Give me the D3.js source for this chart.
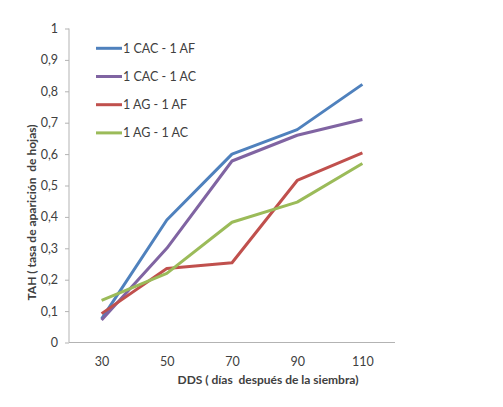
<!DOCTYPE html>
<html>
<head>
<meta charset="utf-8">
<script src="https://cdn.jsdelivr.net/npm/d3@7"></script>
<style>
  body { margin: 0; background: #fff; }
  svg text { font-family: Lato, "Open Sans", sans-serif; fill: #404040; }
</style>
</head>
<body>
<svg id="chart" width="503" height="407"></svg>
<script>
// data
var days = ["30", "50", "70", "90", "110"];
var seriesNames = ["1 CAC - 1 AF", "1 CAC - 1 AC", "1 AG - 1 AF", "1 AG - 1 AC"];
var cacAf = [0.075, 0.39, 0.60, 0.678, 0.822];
var cacAc = [0.072, 0.30, 0.578, 0.66, 0.71];
var agAf = [0.092, 0.236, 0.254, 0.516, 0.604];
var agAc = [0.134, 0.22, 0.383, 0.447, 0.57];
var yTicks = [0, 0.1, 0.2, 0.3, 0.4, 0.5, 0.6, 0.7, 0.8, 0.9, 1];
var colors = ["#4F81BD", "#8064A2", "#C0504D", "#9BBB59"];

var series = [cacAf, cacAc, agAf, agAc];

var margin = {top: 28.5, left: 69, right: 108, bottom: 64.5};
var width = 503 - margin.left - margin.right;
var height = 407 - margin.top - margin.bottom;

var svg = d3.select("#chart")
    .append("g")
    .attr("transform", "translate(" + margin.left + "," + margin.top + ")");

var x = d3.scalePoint()
    .domain(days)
    .range([0, width])
    .padding(0.5);

var y = d3.scaleLinear()
    .domain([0, 1])
    .range([height, 0]);

var fmt = function(d) { return d === 0 || d === 1 ? String(d) : d3.format(".1f")(d).replace(".", ","); };

// y axis
var yAxis = svg.append("g")
    .call(d3.axisLeft(y).tickValues(yTicks).tickFormat(fmt).tickSize(4).tickPadding(7));
yAxis.selectAll("line, path").attr("stroke", "#b3b3b3");
yAxis.select(".domain").attr("d", "M0," + height + "V0");
yAxis.selectAll("text").style("font-size", "12.5px").attr("fill", "#404040");

// x axis
var xAxis = svg.append("g")
    .attr("transform", "translate(0," + height + ")")
    .call(d3.axisBottom(x).tickSize(0).tickPadding(15));
xAxis.selectAll("line, path").attr("stroke", "#b3b3b3");
xAxis.select(".domain").attr("d", "M0,0H" + width);
xAxis.selectAll("text").style("font-size", "12.5px").attr("fill", "#404040");

// lines
var line = d3.line()
    .x(function(d, i) { return x(days[i]); })
    .y(function(d) { return y(d); });

svg.selectAll(".serie")
    .data(series)
    .enter().append("path")
    .attr("class", "serie")
    .attr("d", line)
    .attr("fill", "none")
    .attr("stroke", function(d, i) { return colors[i]; })
    .attr("stroke-width", 3)
    .attr("stroke-linejoin", "round");

// legend
var legend = svg.selectAll(".legend")
    .data(seriesNames)
    .enter().append("g")
    .attr("class", "legend")
    .attr("transform", function(d, i) { return "translate(27," + (19.8 + i * 28.2) + ")"; });

legend.append("line")
    .attr("x1", 0).attr("x2", 26)
    .attr("stroke", function(d, i) { return colors[i]; })
    .attr("stroke-width", 3);

legend.append("text")
    .attr("x", 27)
    .attr("dy", "0.35em")
    .style("font-size", "12.5px")
    .text(function(d) { return d; });

// axis titles (keep the double spaces)
svg.append("text")
    .attr("x", 199)
    .attr("y", height + 41)
    .attr("text-anchor", "middle")
    .style("font-size", "12px")
    .style("font-weight", "bold")
    .style("white-space", "pre")
    .attr("fill", "#000")
    .text("DDS ( días  después de la siembra)");

svg.append("text")
    .attr("transform", "translate(-33," + (height / 2 + 27) + ") rotate(-90)")
    .attr("text-anchor", "middle")
    .style("font-size", "12px")
    .style("font-weight", "bold")
    .style("white-space", "pre")
    .attr("fill", "#000")
    .text("TAH ( tasa de aparición  de hojas)");
</script>
</body>
</html>
